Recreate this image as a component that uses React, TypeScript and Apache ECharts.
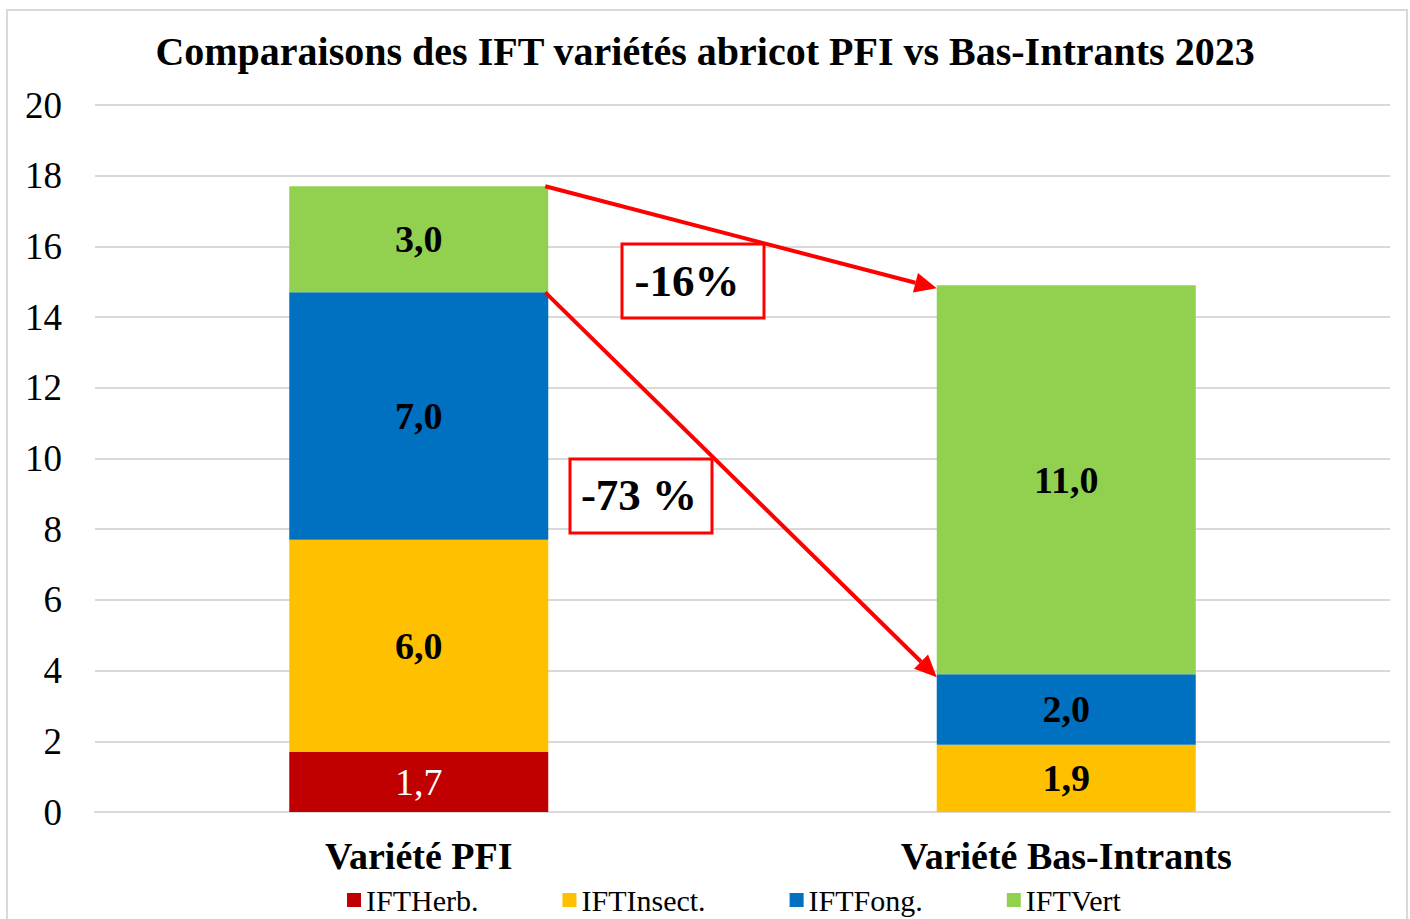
import React, { useEffect, useRef } from "react";
import * as echarts from "echarts";

const categories = ["Variété PFI", "Variété Bas-Intrants"];
const seriesNames = ["IFTHerb.", "IFTInsect.", "IFTFong.", "IFTVert"];
const herb = [1.7, 0];
const insect = [6.0, 1.9];
const fong = [7.0, 2.0];
const vert = [3.0, 11.0];
const colors = ["#C00000", "#FFC000", "#0070C0", "#92D050"];
const titleText = "Comparaisons des IFT variétés abricot PFI vs Bas-Intrants 2023";
const annot1 = "-16%";
const annot2 = "-73 %";

const FONT = "'Liberation Serif', 'Times New Roman', serif";

function fmt(p: any) {
  const v = Number(p.value);
  if (!v) return "";
  return v.toFixed(1).replace(".", ",");
}

export default function App() {
  const ref = useRef<HTMLDivElement>(null);
  useEffect(() => {
    if (!ref.current) return;
    const chart = echarts.init(ref.current, undefined, { renderer: "svg" });
    const data = [herb, insect, fong, vert];
    const series = data.map((d, i) => ({
      name: seriesNames[i],
      type: "bar",
      stack: "total",
      barWidth: "40%",
      data: d,
      itemStyle: { color: colors[i] },
      label: {
        show: true,
        position: "inside",
        formatter: fmt,
        fontFamily: FONT,
        fontSize: 38,
        fontWeight: i === 0 ? "normal" : "bold",
        color: i === 0 ? "#ffffff" : "#000000",
      },
    }));
    chart.setOption({
      animation: false,
      backgroundColor: "#ffffff",
      title: {
        text: titleText,
        left: "center",
        top: 26,
        textStyle: { fontFamily: FONT, fontSize: 40, fontWeight: "bold", color: "#000" },
      },
      grid: { left: 95, right: 20, top: 105, bottom: 107, containLabel: false },
      legend: {
        top: 880,
        left: 342,
        itemWidth: 14,
        itemHeight: 14,
        itemGap: 84,
        icon: "rect",
        textStyle: { fontFamily: FONT, fontSize: 30, color: "#000" },
        data: seriesNames,
      },
      xAxis: {
        type: "category",
        data: categories,
        axisLine: { lineStyle: { color: "#d9d9d9", width: 2 } },
        axisTick: { show: false },
        axisLabel: { fontFamily: FONT, fontSize: 38, fontWeight: "bold", color: "#000", margin: 25 },
      },
      yAxis: {
        type: "value",
        min: 0,
        max: 20,
        interval: 2,
        axisLine: { show: false },
        axisTick: { show: false },
        axisLabel: { fontFamily: FONT, fontSize: 37, color: "#000", margin: 33 },
        splitLine: { lineStyle: { color: "#d9d9d9", width: 2 } },
      },
      series,
    });

    const p = (c: number, v: number) => chart.convertToPixel({ gridIndex: 0 }, [c, v]) as number[];
    const c0 = p(0, 0);
    const c1 = p(1, 0);
    const band = c1[0] - c0[0];
    const half = band * 0.2;
    const tot0 = herb[0] + insect[0] + fong[0] + vert[0];
    const tot1 = herb[1] + insect[1] + fong[1] + vert[1];
    const nonGreen0 = herb[0] + insect[0] + fong[0];
    const nonGreen1 = herb[1] + insect[1] + fong[1];

    const arrow = (x1: number, y1: number, x2: number, y2: number) => {
      const dx = x2 - x1, dy = y2 - y1;
      const len = Math.sqrt(dx * dx + dy * dy);
      const ux = dx / len, uy = dy / len;
      const hl = 22, hw = 10;
      const bx = x2 - ux * hl, by = y2 - uy * hl;
      return [
        {
          type: "line",
          shape: { x1, y1, x2: bx, y2: by },
          style: { stroke: "#FF0000", lineWidth: 4 },
          z: 100,
        },
        {
          type: "polygon",
          shape: {
            points: [
              [x2, y2],
              [bx - uy * hw, by + ux * hw],
              [bx + uy * hw, by - ux * hw],
            ],
          },
          style: { fill: "#FF0000" },
          z: 100,
        },
      ];
    };

    const a1s = p(0, tot0);
    const a1e = p(1, tot1);
    const a2s = p(0, nonGreen0);
    const a2e = p(1, nonGreen1);

    chart.setOption({
      graphic: [
        {
          type: "rect",
          shape: { x: 7, y: 10, width: 1400, height: 940 },
          style: { fill: "none", stroke: "#d9d9d9", lineWidth: 2 },
          silent: true,
          z: -10,
        },
        ...arrow(a1s[0] + half - 3, a1s[1], a1e[0] - half, a1e[1] + 3),
        ...arrow(a2s[0] + half - 3, a2s[1], a2e[0] - half, a2e[1] + 3),
        {
          type: "group",
          z: 110,
          children: [
            {
              type: "rect",
              shape: { x: 622, y: 244, width: 142, height: 74 },
              style: { fill: "#ffffff", stroke: "#FF0000", lineWidth: 3 },
              z: 110,
            },
            {
              type: "text",
              x: 687,
              y: 281,
              style: {
                text: annot1,
                fontFamily: FONT,
                fontSize: 45,
                fontWeight: "bold",
                fill: "#000",
                align: "center",
                verticalAlign: "middle",
              },
              z: 111,
            },
            {
              type: "rect",
              shape: { x: 570, y: 459, width: 142, height: 74 },
              style: { fill: "#ffffff", stroke: "#FF0000", lineWidth: 3 },
              z: 110,
            },
            {
              type: "text",
              x: 639,
              y: 495,
              style: {
                text: annot2,
                fontFamily: FONT,
                fontSize: 45,
                fontWeight: "bold",
                fill: "#000",
                align: "center",
                verticalAlign: "middle",
              },
              z: 111,
            },
          ],
        },
      ],
    });

    return () => chart.dispose();
  }, []);
  return (
    <div
      ref={ref}
      style={{ position: "absolute", left: 0, top: 0, width: 1410, height: 919 }}
    />
  );
}
